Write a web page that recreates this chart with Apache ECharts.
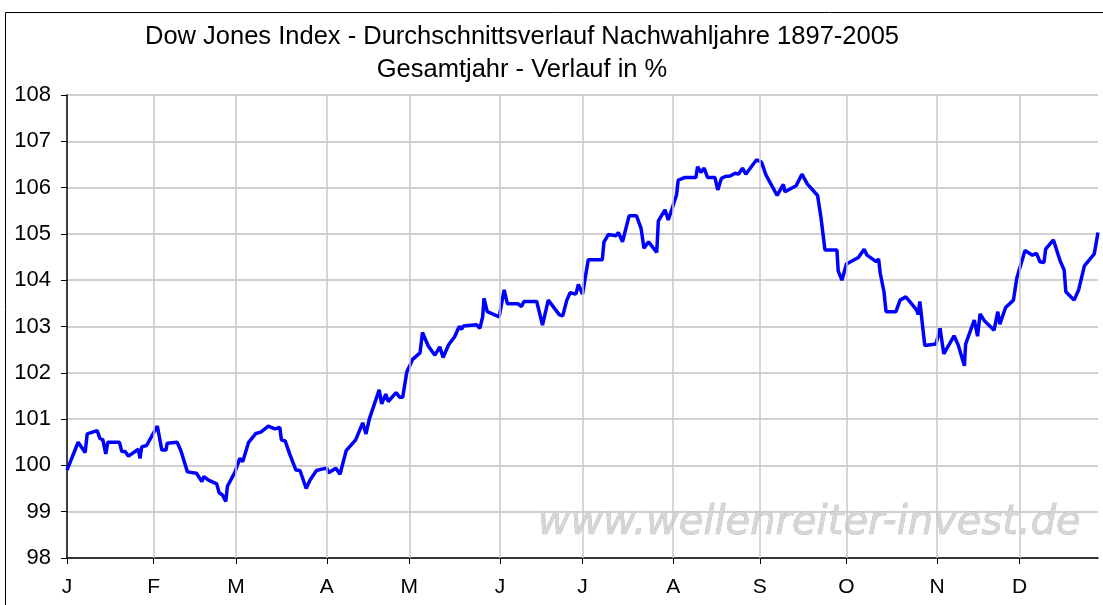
<!DOCTYPE html>
<html>
<head>
<meta charset="utf-8">
<title>Dow Jones Index - Nachwahljahre</title>
<script src="https://cdn.jsdelivr.net/npm/echarts@6/dist/echarts.min.js"></script>
<style>
html,body{margin:0;padding:0;background:#fff;}
#chart{width:1103px;height:605px;}
</style>
</head>
<body>
<div id="chart"></div>
<script>
// Handelstage seit Jahresbeginn (Knickpunkte der Kurve) und Indexwert in %
var days = [0,2.7,4.4,4.9,7.3,8,8.7,9.4,9.9,12.7,13.3,14.1,14.9,17.3,17.7,18.1,19.3,21.9,23,24,24.3,26.7,27.6,29.2,31.4,32.7,33.2,34.3,36.3,36.9,37.7,38.5,38.9,40.7,41.9,
  42.6,44,45.8,47,48.8,50.4,51.6,52,52.9,53.9,55.5,56.5,58,58.9,60.5,61.8,63,63.4,65.2,66.2,67.7,70,71.7,72.5,73.3,75.7,76.3,77.3,77.9,79.8,80.7,81.4,82.4,83.2,
  83.8,85.6,86.2,87.6,89.2,90.4,91.2,92.5,94,95.1,95.7,96.1,99.3,100.1,100.8,101.1,101.9,104.8,106,106.8,109.4,110.2,110.8,113.9,115.3,116.7,119.4,120.2,121.2,122,123.4,124,
  125,126.4,129.8,130.2,131.3,133.1,133.7,134.7,136.3,138.1,139.2,139.9,141,143,143.4,145,145.8,147.8,148.2,149.9,152.5,152.9,153.7,154.5,155.3,157.1,157.8,158.7,159.6,160.8,162,162.8,163.8,164.6,167.2,
  168.4,169.5,172.2,173.7,174.1,176.8,178.2,179.5,182,182.8,183.8,186.7,187,187.9,189,191.9,193.3,194,196.2,196.8,197.2,198.1,198.6,201,202,203.4,206,206.4,206.8,208,210.7,
  211.7,212.6,215.1,216.1,217.6,217.9,220,220.8,221.4,222.4,224.8,225.7,226.2,227.6,229.5,230.3,232.3,234.1,235.1,235.9,236.9,237.3,239.2,240.8,241.8,242.2,244.2,245.3,246.7,249.1,250];
var values = [99.9,100.5,100.28,100.68,100.75,100.58,100.55,100.25,100.5,100.5,100.3,100.3,100.2,100.35,100.15,100.4,100.43,100.85,100.33,100.33,100.48,100.5,100.32,99.86,99.83,99.65,99.76,99.68,99.6,99.41,99.36,99.22,99.55,99.85,100.15,
  100.08,100.49,100.69,100.72,100.85,100.79,100.82,100.55,100.53,100.27,99.9,99.89,99.5,99.68,99.89,99.92,99.94,99.84,99.94,99.81,100.32,100.55,100.92,100.68,101.0,101.63,101.33,101.54,101.38,101.57,101.47,101.47,102.02,102.17,
  102.29,102.43,102.87,102.58,102.38,102.56,102.33,102.6,102.78,103.0,102.94,103.01,103.04,102.96,103.21,103.61,103.32,103.21,103.79,103.49,103.49,103.43,103.54,103.54,103.03,103.57,103.25,103.23,103.57,103.73,103.7,103.91,
  103.7,104.44,104.44,104.82,104.99,104.96,105.03,104.83,105.39,105.39,105.12,104.69,104.83,104.6,105.28,105.52,105.3,105.84,106.16,106.22,106.22,106.45,106.33,106.42,106.22,106.22,105.95,106.2,106.24,106.25,106.31,106.29,106.42,106.29,106.6,
  106.55,106.27,105.83,106.07,105.91,106.04,106.29,106.08,105.83,105.37,104.65,104.65,104.2,104.0,104.35,104.49,104.67,104.54,104.4,104.46,104.15,103.75,103.32,103.32,103.57,103.64,103.36,103.26,103.54,102.59,102.62,
  102.96,102.41,102.8,102.6,102.15,102.62,103.14,102.79,103.27,103.13,102.92,103.32,103.05,103.41,103.57,104.04,104.64,104.54,104.58,104.4,104.38,104.67,104.87,104.42,104.22,103.75,103.57,103.79,104.31,104.57,105.03];

// Monatsanfaenge (Handelstag) und Beschriftung
var monthStarts = [0,21,41,63,83,105,125,147,168,189,211,231];
var monthLabels = ['J','F','M','A','M','J','J','A','S','O','N','D'];

var seriesData = [];
for (var i = 0; i < days.length; i++) {
  seriesData.push([days[i], values[i]]);
}
var gridMarks = [];
for (var m = 1; m < monthStarts.length; m++) {
  gridMarks.push({xAxis: monthStarts[m]});
}

var font = 'Liberation Sans, Arial, sans-serif';
var myChart = echarts.init(document.getElementById('chart'));
var option = {
  animation: false,
  backgroundColor: '#fff',
  title: {
    text: 'Dow Jones Index - Durchschnittsverlauf Nachwahljahre 1897-2005\nGesamtjahr - Verlauf in %',
    left: 517,
    textAlign: 'center',
    top: 15,
    textStyle: {fontFamily: font, fontSize: 25.5, fontWeight: 'normal', color: '#000', lineHeight: 33}
  },
  graphic: [
    {type: 'rect', shape: {x: 5.5, y: 12.5, width: 1110, height: 600}, style: {fill: 'none', stroke: '#000', lineWidth: 1}, silent: true},
    {type: 'text', right: 22, top: 503, z: 1,
     style: {text: 'www.wellenreiter-invest.de', font: 'italic 40px DejaVu Sans, sans-serif', fill: '#d6d6d6', stroke: '#b0b0b0', lineWidth: 0.6}}
  ],
  grid: {left: 67, top: 95, width: 1031, height: 463, containLabel: false},
  xAxis: {
    type: 'value',
    min: 0,
    max: 250,
    axisLine: {show: true, lineStyle: {color: '#000', width: 1.5}},
    axisTick: {show: true, customValues: monthStarts, length: 6, lineStyle: {color: '#000'}},
    axisLabel: {
      customValues: monthStarts,
      margin: 19,
      fontFamily: font, fontSize: 21, color: '#000',
      formatter: function (v) {
        var k = monthStarts.indexOf(v);
        return k >= 0 ? monthLabels[k] : '';
      }
    },
    splitLine: {show: false}
  },
  yAxis: {
    type: 'value',
    min: 98,
    max: 108,
    interval: 1,
    axisLine: {show: true, lineStyle: {color: '#000', width: 1.5}},
    axisTick: {show: true, length: 6, lineStyle: {color: '#000'}},
    axisLabel: {margin: 16, fontFamily: font, fontSize: 22, color: '#000'},
    splitLine: {show: true, lineStyle: {color: '#c0c0c0', width: 1.5}}
  },
  series: [{
    type: 'line',
    data: seriesData,
    showSymbol: false,
    z: 3,
    lineStyle: {color: '#0000ff', width: 3.5},
    markLine: {
      silent: true,
      symbol: 'none',
      label: {show: false},
      lineStyle: {color: '#c8c8c8', width: 1.5, type: 'solid'},
      data: gridMarks
    }
  }]
};
myChart.setOption(option);
</script>
</body>
</html>
